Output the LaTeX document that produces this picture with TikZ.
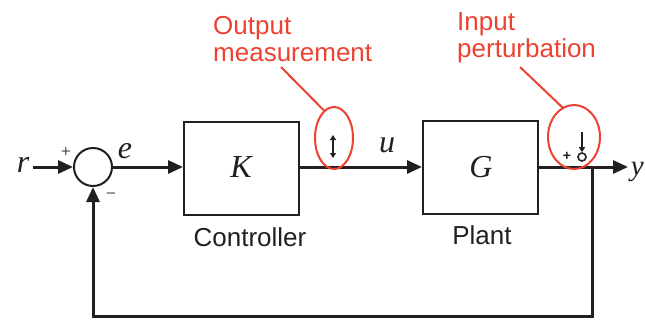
\documentclass[tikz,border=0pt]{standalone}
\usepackage{fontspec}
\setmainfont{Liberation Serif}
\setsansfont{Liberation Sans}
\usetikzlibrary{arrows.meta}
\definecolor{annot}{RGB}{235,66,50}
\definecolor{ink}{RGB}{35,31,32}
\tikzset{
  conn/.style={draw=ink, line width=3pt},
  arr/.style={conn, -{Triangle[length=15pt,width=13pt]}},
  blockbox/.style={draw=ink, line width=2pt, minimum width=115pt, minimum height=93pt, inner sep=0pt},
  sumnode/.style={draw=ink, circle, line width=2pt, minimum size=38pt, inner sep=0pt},
  sym/.style={font=\fontsize{32}{32}\selectfont\itshape, inner sep=0pt, text=ink},
  caption/.style={font=\sffamily\fontsize{26}{27}\selectfont, inner sep=0pt, text=ink},
  note/.style={font=\sffamily\fontsize{26}{27.5}\selectfont, inner sep=0pt, text=annot, align=left, anchor=north west},
  ring/.style={draw=annot, line width=2pt},
  sign/.style={font=\fontsize{18}{18}\selectfont, inner sep=0pt, text=ink},
  tick/.style={draw=ink, line width=1.6pt}
}
\begin{document}
\begin{tikzpicture}[x=1pt,y=-1pt]
\useasboundingbox (0,0) rectangle (645,321);
% nodes
\node[sym] (r) at (23,165) {r};
\node[sumnode] (s) at (93,167) {};
\node[blockbox] (K) at (241.5,168.5) {};
\node[sym] (Kl) at (241,167) {K};
\node[blockbox] (G) at (480.5,167.5) {};
\node[sym] (Gl) at (481,167) {G};
\node[sym, font=\fontsize{29}{29}\selectfont\itshape, anchor=base east] (y) at (644,175) {y};
\node[sym] (e) at (125,151) {e};
\node[sym] (u) at (387,145) {u};
\node[sign] (plus) at (66,152) {+};
\node[sign] (minus) at (111,196) {−};
\node[caption] (ctrl) at (250,237) {Controller};
\node[caption] (plant) at (482,235) {Plant};
% connectors
\coordinate (yend) at (628,167);
\coordinate (br) at (592,167);
\coordinate (c1) at (592,316);
\coordinate (c2) at (93,316);
\coordinate (rs) at (33,167);
\draw[arr] (rs) -- (s.west);
\draw[arr] (s.east) -- (K.west |- s.east);
\draw[arr] (K.east |- s.east) -- (G.west |- s.east);
\draw[arr] (G.east |- s.east) -- (yend);
\draw[arr] (br) -- (c1) -- (c2) -- (s.south);
% annotations
\node[note] (om) at (213,16) {Output\\measurement};
\node[note] (ip) at (457,12) {Input\\perturbation};
\draw[ring] (334,138) ellipse [x radius=19, y radius=31];
\draw[ring] (574,137) ellipse [x radius=26, y radius=32];
\coordinate (omA) at (281,67);
\coordinate (omB) at (324.5,111);
\coordinate (ipA) at (520,67);
\coordinate (ipB) at (563,108);
\draw[ring] (omA) -- (omB);
\draw[ring] (ipA) -- (ipB);
% small markers
\coordinate (m1a) at (333,135);
\coordinate (m1b) at (333,158);
\draw[tick, {Triangle[length=5pt,width=6pt]}-{Triangle[length=5pt,width=6pt]}] (m1a) -- (m1b);
\node[sign, font=\sffamily\bfseries\fontsize{14}{14}\selectfont] (pp) at (567,156) {+};
\node[draw=ink, circle, line width=1.6pt, minimum size=8pt, inner sep=0pt] (oc) at (582,157) {};
\coordinate (m2a) at (582,132);
\draw[tick, -{Triangle[length=5pt,width=6pt]}] (m2a) -- (oc.north);
\end{tikzpicture}
\end{document}
